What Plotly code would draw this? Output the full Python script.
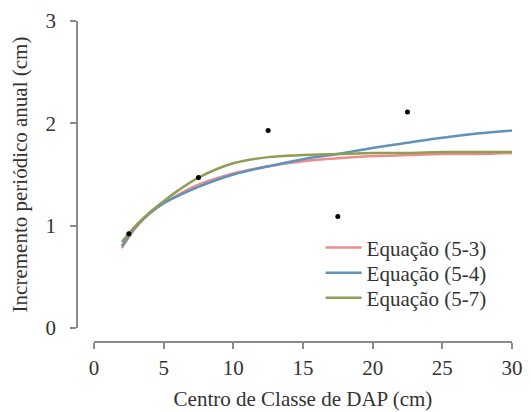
import plotly.graph_objects as go

# observed data (class centres and mean annual increment)
obs_x = [2.5, 7.5, 12.5, 17.5, 22.5]
obs_y = [0.92, 1.47, 1.93, 1.09, 2.11]

# fitted curves
curve_x = [2, 3, 4, 5, 6, 7.5, 10, 12.5, 15, 17.5, 20, 22.5, 25, 27.5, 30]
eq53 = [0.78, 0.98, 1.12, 1.22, 1.30, 1.40, 1.51, 1.58, 1.63, 1.66, 1.68, 1.69, 1.70, 1.70, 1.71]
eq54 = [0.80, 0.99, 1.12, 1.22, 1.29, 1.38, 1.50, 1.58, 1.65, 1.70, 1.76, 1.81, 1.86, 1.90, 1.93]
eq57 = [0.84, 1.00, 1.13, 1.24, 1.34, 1.47, 1.61, 1.67, 1.69, 1.70, 1.71, 1.71, 1.72, 1.72, 1.72]

names = ["Equação (5-3)", "Equação (5-4)", "Equação (5-7)"]
colors = ["#ee8c8c", "#5f93bb", "#929c55"]
legend_ids = ["legend", "legend2", "legend3"]
legend_y = [0.293, 0.215, 0.137]

x_ticks = [0, 5, 10, 15, 20, 25, 30]
y_ticks = [0, 1, 2, 3]

FONT = "Liberation Serif"
FS = 21

fig = go.Figure()
for ys, nm, c, lg in zip([eq53, eq54, eq57], names, colors, legend_ids):
    fig.add_trace(go.Scatter(x=curve_x, y=ys, mode="lines", name=nm, legend=lg,
                             line=dict(color=c, width=2.5, shape="spline")))
fig.add_trace(go.Scatter(x=obs_x, y=obs_y, mode="markers", showlegend=False,
                         marker=dict(color="black", size=5)))

axis_common = dict(showgrid=False, zeroline=False, showline=True,
                   linecolor="#8a8a8a", linewidth=1.5, ticks="outside",
                   ticklen=6, tickwidth=1.5, tickcolor="#8a8a8a",
                   tickfont=dict(family=FONT, size=FS, color="#333"),
                   ticklabeloverflow="allow",
                   anchor="free", position=0, automargin=False)

legend_common = dict(x=0.56, xanchor="left", yanchor="middle",
                     bgcolor="rgba(255,255,255,0)", borderwidth=0,
                     itemwidth=36,
                     font=dict(family=FONT, size=FS, color="#333"))

fig.update_layout(
    width=523, height=404,
    margin=dict(l=69, r=19, t=13, b=70),
    paper_bgcolor="white", plot_bgcolor="white",
    font=dict(family=FONT, size=FS, color="#333"),
    xaxis=dict(axis_common, range=[0, 30], domain=[0.039, 1],
               tickvals=x_ticks, ticklabelstandoff=1,
               title=dict(text="Centro de Classe de DAP (cm)", standoff=11,
                          font=dict(family=FONT, size=FS, color="#333"))),
    yaxis=dict(axis_common, range=[0, 3.0005], domain=[0.0436, 1],
               tickvals=y_ticks, ticklabelstandoff=10,
               title=dict(text="Incremento periódico anual (cm)", standoff=22,
                          font=dict(family=FONT, size=FS, color="#333"))),
    legend=dict(legend_common, y=legend_y[0]),
    legend2=dict(legend_common, y=legend_y[1]),
    legend3=dict(legend_common, y=legend_y[2]),
)

fig.write_html("out.html")
